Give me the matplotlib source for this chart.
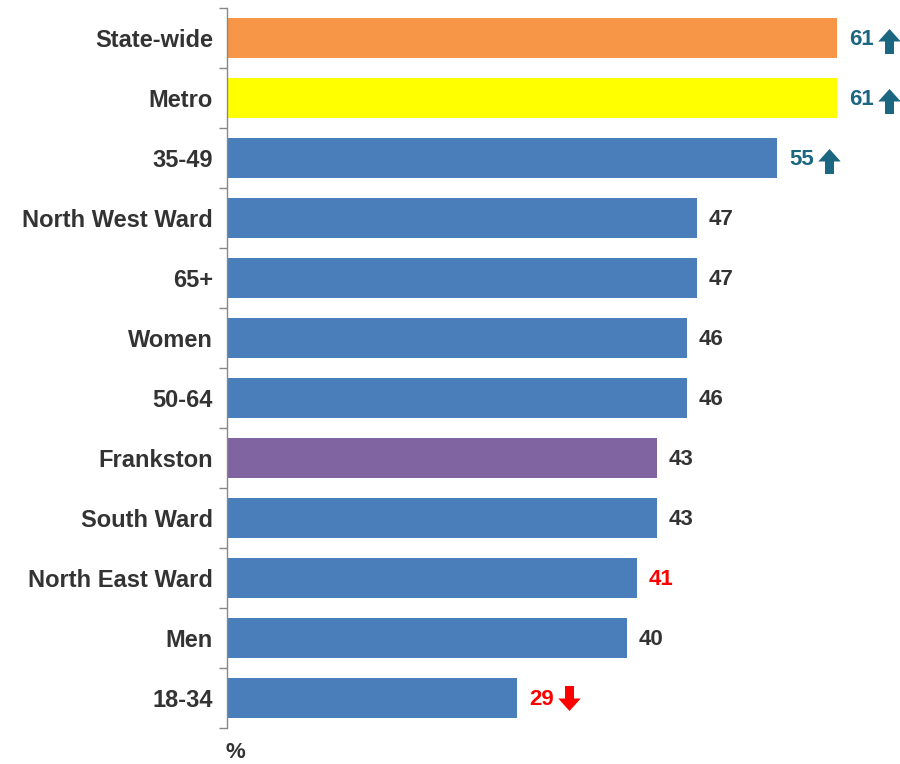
import matplotlib.pyplot as plt
from matplotlib.path import Path
from matplotlib.ticker import FixedLocator, NullFormatter

plt.rcParams['font.family'] = ['Liberation Sans', 'DejaVu Sans']

categories = ['State-wide', 'Metro', '35-49', 'North West Ward', '65+', 'Women',
              '50-64', 'Frankston', 'South Ward', 'North East Ward', 'Men', '18-34']
values = [61, 61, 55, 47, 47, 46, 46, 43, 43, 41, 40, 29]
bar_colors = ['#F79646', '#FFFF00', '#4A7EBB', '#4A7EBB', '#4A7EBB', '#4A7EBB',
              '#4A7EBB', '#8064A2', '#4A7EBB', '#4A7EBB', '#4A7EBB', '#4A7EBB']
# 'up' / 'down' = significantly higher / lower, 'low' = lower but no arrow
trend = ['up', 'up', 'up', None, None, None, None, None, None, 'low', None, 'down']

TEAL = '#1B6680'
RED = '#FF0000'
DARK = '#333333'

# block arrow marker shapes
up_verts = [(-0.45, 0.0), (0.0, 0.5), (0.45, 0.0), (0.18, 0.0),
            (0.18, -0.5), (-0.18, -0.5), (-0.18, 0.0), (-0.45, 0.0)]
up_arrow = Path(up_verts, closed=True)
down_arrow = Path([(x, -yv) for x, yv in up_verts], closed=True)

fig = plt.figure(figsize=(9, 7.64), dpi=100)
ax = fig.add_axes([227 / 900, 36 / 764, 673 / 900, 720 / 764])

y = list(range(len(categories)))
ax.barh(y, values, height=0.66, color=bar_colors, edgecolor='none')
ax.set_ylim(len(categories) - 0.5, -0.5)
ax.set_xlim(0, 67.3)

for yi, v, t in zip(y, values, trend):
    if t == 'up':
        col = TEAL
    elif t in ('down', 'low'):
        col = RED
    else:
        col = DARK
    ax.text(v + 1.2, yi + 0.03, str(v), va='center', ha='left', fontsize=16,
            fontweight='bold', color=col)
    if t == 'up':
        ax.plot(v + 5.2, yi + 0.05, marker=up_arrow, markersize=18,
                color=col, markeredgewidth=0, clip_on=False)
    elif t == 'down':
        ax.plot(v + 5.2, yi + 0.0, marker=down_arrow, markersize=18,
                color=col, markeredgewidth=0, clip_on=False)

# category labels, tick marks sit between the bars
ax.set_yticks(y)
ax.set_yticklabels(categories, fontsize=17, fontweight='bold', color=DARK)
ax.tick_params(axis='y', which='major', length=0, pad=10)
ax.yaxis.set_minor_locator(FixedLocator([i - 0.5 for i in range(len(categories) + 1)]))
ax.yaxis.set_minor_formatter(NullFormatter())
ax.tick_params(axis='y', which='minor', length=6, width=1, color='#888888')

ax.set_xticks([])
for side in ('top', 'right', 'bottom'):
    ax.spines[side].set_visible(False)
ax.spines['left'].set_color('#888888')
ax.spines['left'].set_linewidth(1)

fig.text(225 / 900, 1 - 753 / 764, '%', ha='left', va='center', fontsize=16,
         fontweight='bold', color=DARK)

fig.savefig('out.png', dpi=100, facecolor='white')
